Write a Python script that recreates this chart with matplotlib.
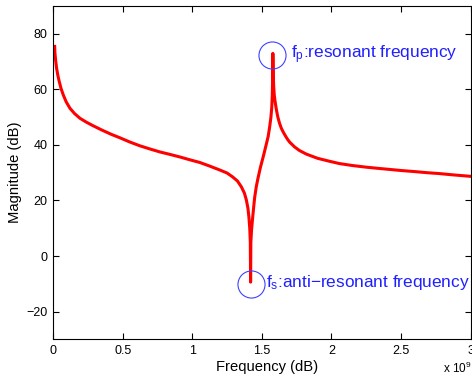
import numpy as np
import matplotlib
matplotlib.use('Agg')
import matplotlib.pyplot as plt

plt.rcParams['font.family'] = ['Liberation Sans', 'DejaVu Sans']
plt.rcParams['mathtext.default'] = 'regular'

# frequency in units of 1e9, magnitude in dB
freq = [0.012, 0.014, 0.02, 0.026, 0.035, 0.045, 0.058, 0.074, 0.095, 0.122,
        0.155, 0.194, 0.24, 0.289, 0.35, 0.42, 0.48, 0.55, 0.624, 0.7,
        0.767, 0.84, 0.91, 0.98, 1.054, 1.125, 1.197, 1.25, 1.29, 1.325,
        1.353, 1.375, 1.389, 1.40, 1.407, 1.413, 1.417, 1.419, 1.421, 1.426,
        1.432, 1.44, 1.448, 1.46, 1.472, 1.49, 1.513, 1.532, 1.545, 1.556,
        1.565, 1.571, 1.575, 1.577, 1.579, 1.582, 1.585, 1.589, 1.594, 1.60,
        1.607, 1.615, 1.627, 1.64, 1.655, 1.67, 1.685, 1.70, 1.735, 1.77,
        1.82, 1.9, 1.98, 2.057, 2.15, 2.25, 2.33, 2.416, 2.5, 2.6,
        2.69, 2.774, 2.88, 3.0]
mag = [75.5, 73.0, 70.0, 67.6, 65.0, 62.8, 60.3, 58.0, 55.5, 53.2,
       51.3, 49.6, 48.2, 46.9, 45.4, 43.8, 42.6, 41.1, 39.7, 38.5,
       37.5, 36.6, 35.7, 34.7, 33.7, 32.4, 31.0, 29.9, 28.5, 27.0,
       24.9, 22.6, 20.1, 17.2, 14.0, 10.0, 5.0, -9.4, 5.0, 9.5,
       12.8, 17.0, 21.0, 25.0, 28.0, 32.0, 36.4, 40.3, 43.0, 46.5,
       50.0, 53.5, 58.0, 63.0, 73.0, 65.0, 61.0, 58.0, 56.0, 54.0,
       52.0, 50.0, 47.8, 46.0, 44.5, 43.2, 42.0, 41.0, 39.3, 38.0,
       36.7, 35.2, 34.2, 33.3, 32.6, 32.0, 31.6, 31.2, 30.8, 30.4,
       30.0, 29.7, 29.2, 28.7]

xticks = [0, 0.5, 1, 1.5, 2, 2.5, 3]
xticklabels = ['0', '0.5', '1', '1.5', '2', '2.5', '3']
yticks = [-20, 0, 20, 40, 60, 80]
yticklabels = ['\u221220', '0', '20', '40', '60', '80']

fig = plt.figure(figsize=(4.72, 3.76), dpi=100)
ax = fig.add_axes([0.1123, 0.0976, 0.885, 0.886])

ax.plot(freq, mag, color='r', lw=2.2, solid_joinstyle='round')

# circles around resonance and anti-resonance
f = np.array(freq)
m = np.array(mag)
ip = int(np.argmax(np.where(f > 1, m, -np.inf)))
iz = int(np.argmin(m))
ax.plot(f[ip] - 0.009, m[ip] - 0.7, 'o', ms=19.5, mfc='none', mec='#4040ff', mew=0.8)
ax.plot(f[iz], m[iz] - 0.7, 'o', ms=19.5, mfc='none', mec='#4040ff', mew=0.8)
ax.text(1.711, 72.4, r'f$_p$:resonant frequency', color='#2020ff',
        fontsize=12.4, va='center', ha='left')
ax.text(1.531, -9.5, r'f$_s$:anti$-$resonant frequency', color='#2020ff',
        fontsize=12.4, va='center', ha='left')

ax.set_xlim(0, 3)
ax.set_ylim(-30, 90)
ax.set_xticks(xticks)
ax.set_xticklabels(xticklabels)
ax.set_yticks(yticks)
ax.set_yticklabels(yticklabels)
ax.tick_params(direction='in', top=True, right=True, length=4, width=0.8,
               labelsize=9, pad=4)
for s in ax.spines.values():
    s.set_linewidth(0.8)

ax.set_xlabel('Frequency (dB)', fontsize=10.6, va='top')
ax.xaxis.set_label_coords(0.513, -0.062)
ax.set_ylabel('Magnitude (dB)', fontsize=10.6, labelpad=3)
fig.text(0.9386, 0.008, r'x 10$^9$', fontsize=8.5, ha='left', va='baseline')

fig.savefig('out.png', dpi=100)
